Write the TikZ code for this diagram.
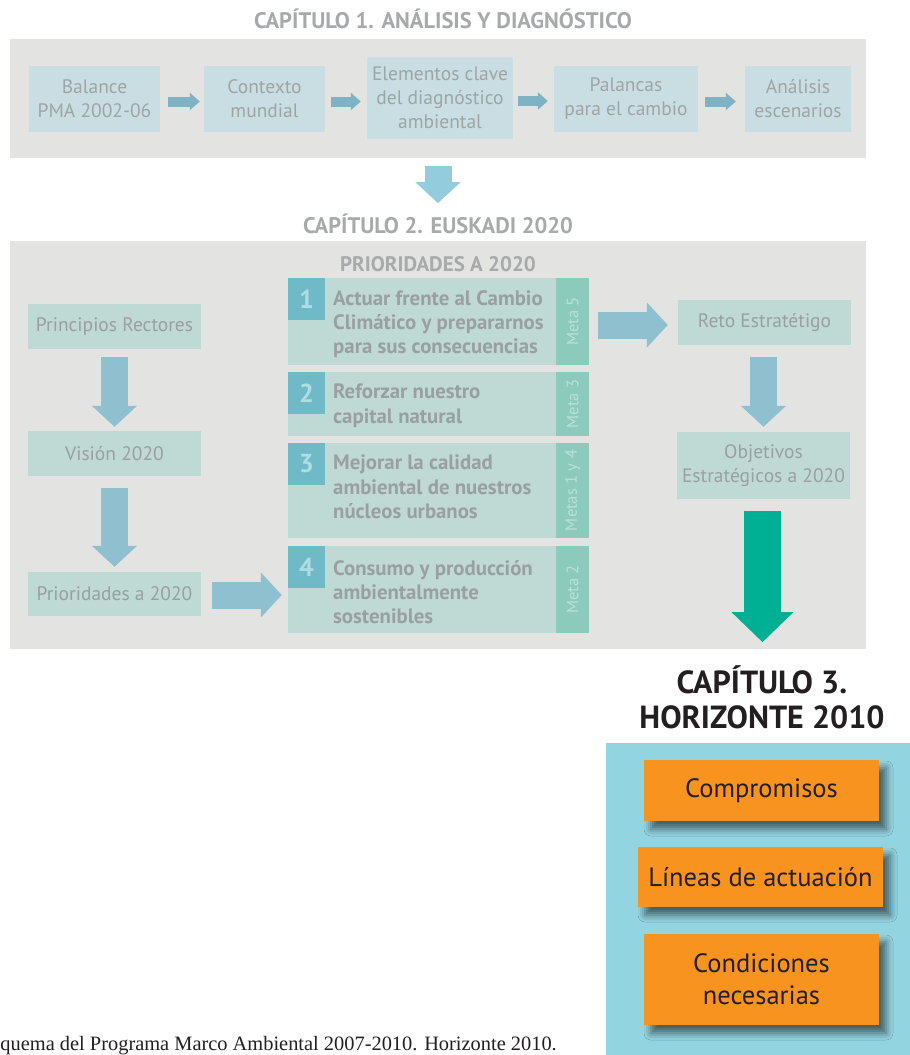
\documentclass[tikz,border=0pt]{standalone}
\usepackage{fontspec}
\setmainfont{PT Sans}
\newfontfamily\capfont{Liberation Serif}
\usetikzlibrary{arrows.meta,shadows.blur,calc}
\definecolor{panelc}{HTML}{E3E3E2}
\definecolor{box1c}{HTML}{C9DEE2}
\definecolor{box2c}{HTML}{BFD9D5}
\definecolor{txt1}{HTML}{9FA4A5}
\definecolor{txt2}{HTML}{99A0A0}
\definecolor{ttl}{HTML}{A7A9AB}
\definecolor{numc}{HTML}{70BAC8}
\definecolor{numtxt}{HTML}{B0DCE3}
\definecolor{metac}{HTML}{8CCBBB}
\definecolor{metatxt}{HTML}{B8E2D6}
\definecolor{arr1}{HTML}{7FB3C3}
\definecolor{arr2}{HTML}{8EC0CF}
\definecolor{arr3}{HTML}{93CDDD}
\definecolor{greenc}{HTML}{00B094}
\definecolor{cyanc}{HTML}{93D4E1}
\definecolor{orangec}{HTML}{F7931E}
\definecolor{darktxt}{HTML}{231F20}
\begin{document}
\begin{tikzpicture}[x=1pt,y=-1pt,
  panel/.style={rectangle, fill=panelc, draw=none, inner sep=0},
  ttlstyle/.style={text=ttl, inner sep=0, font=\bfseries\fontsize{22.5}{26}\selectfont},
  bxa/.style={rectangle, fill=box1c, text=txt1, align=center, inner sep=0, minimum height=66pt, font=\fontsize{19.5}{24}\selectfont},
  bxb/.style={rectangle, fill=box2c, text=txt2, align=center, inner sep=0, minimum width=173pt, font=\fontsize{19.5}{24}\selectfont},
  pbox/.style={rectangle, fill=box2c, inner sep=0, minimum width=301pt},
  numsq/.style={rectangle, fill=numc, text=numtxt, inner sep=0, minimum width=37pt, minimum height=42pt, anchor=north west, font=\bfseries\fontsize{26}{26}\selectfont},
  metabox/.style={rectangle, fill=metac, text=metatxt, rotate=90, inner sep=0, minimum height=33pt, font=\fontsize{16.5}{16.5}\selectfont},
  ptext/.style={anchor=north west, align=left, text=txt2, inner sep=0, font=\bfseries\fontsize{20.8}{24.3}\selectfont},
  obox/.style={rectangle, fill=orangec, text=darktxt, align=center, inner sep=0, font=\fontsize{26.5}{32}\selectfont,
     blur shadow={shadow xshift=7pt, shadow yshift=-8pt, shadow blur radius=7pt, shadow opacity=55}},
  fatsmall/.style={draw=arr1, line width=10pt, -{Triangle[width=17pt,length=10pt]}},
  fatmid/.style={draw=arr2, line width=27pt, -{Triangle[width=44pt,length=21pt]}},
  fatlight/.style={draw=arr3, line width=27pt, -{Triangle[width=44pt,length=21pt]}},
  fatgreen/.style={draw=greenc, line width=37pt, -{Triangle[width=60pt,length=30pt]}}
]
\useasboundingbox (0,0) rectangle (910,1055);

% ---------- Chapter 1 ----------
\node[ttlstyle] (t1) at (443,19) {CAPÍTULO 1. ANÁLISIS Y DIAGNÓSTICO};
\node[panel, minimum width=856pt, minimum height=119pt] (ch1) at (438,98.5) {};
\node[bxa, minimum width=131pt] (bal) at (94.5,98.5) {Balance\\PMA 2002-06};
\node[bxa, minimum width=121pt] (ctx) at (264.5,98.5) {Contexto\\mundial};
\node[bxa, minimum width=146pt, minimum height=82pt] (ele) at (440,98) {Elementos clave\\del diagnóstico\\ambiental};
\node[bxa, minimum width=144pt] (pal) at (626,98.5) {Palancas\\para el cambio};
\node[bxa, minimum width=106pt] (ana) at (798,98.5) {Análisis\\escenarios};
\draw[fatsmall] ($(bal.east)+(8,3)$) -- ($(bal.east -| ctx.west)+(-4,3)$);
\draw[fatsmall] ($(ctx.east)+(6,3)$) -- ($(ctx.east -| ele.west)+(-6,3)$);
\draw[fatsmall] ($(ele.east)+(5,3)$) -- ($(ele.east -| pal.west)+(-6,3)$);
\draw[fatsmall] ($(pal.east)+(7,3)$) -- ($(pal.east -| ana.west)+(-9,3)$);

\draw[fatlight] ($(ch1.south)+(0,8)$) -- ($(ch1.south)+(0,45)$);

% ---------- Chapter 2 ----------
\node[ttlstyle] (t2) at (438,224) {CAPÍTULO 2. EUSKADI 2020};
\node[panel, minimum width=856pt, minimum height=408pt] (ch2) at (438,445) {};
\node[text=ttl, inner sep=0, font=\bfseries\fontsize{21}{24}\selectfont] (prt) at (438,264) {PRIORIDADES A 2020};

\node[bxb, minimum height=45pt] (pr) at (114.5,326.5) {Principios Rectores};
\node[bxb, minimum height=45pt] (vi) at (114.5,453.5) {Visión 2020};
\node[bxb, minimum height=44pt] (pa) at (114.5,594) {Prioridades a 2020};
\draw[fatmid] ($(pr.south)+(0,8)$) -- ($(vi.north)+(0,-4)$);
\draw[fatmid] ($(vi.south)+(0,12)$) -- ($(pa.north)+(0,-5)$);

\node[pbox, minimum height=87pt] (p1) at (438.5,321.5) {};
\node[pbox, minimum height=64pt] (p2) at (438.5,404) {};
\node[pbox, minimum height=95pt] (p3) at (438.5,490.5) {};
\node[pbox, minimum height=87pt] (p4) at (438.5,589.5) {};

\node[numsq] (n1) at (p1.north west) {1};
\node[numsq] (n2) at (p2.north west) {2};
\node[numsq] (n3) at (p3.north west) {3};
\node[numsq] (n4) at (p4.north west) {4};

\node[metabox, minimum width=87pt] (m1) at ($(p1.east)+(-16.5,0)$) {Meta 5};
\node[metabox, minimum width=64pt] (m2) at ($(p2.east)+(-16.5,0)$) {Meta 3};
\node[metabox, minimum width=95pt] (m3) at ($(p3.east)+(-16.5,0)$) {Metas 1 y 4};
\node[metabox, minimum width=87pt] (m4) at ($(p4.east)+(-16.5,0)$) {Meta 2};

\node[ptext] (x1) at (333,290) {Actuar frente al Cambio\\Climático y prepararnos\\para sus consecuencias};
\node[ptext] (x2) at (333,384) {Reforzar nuestro\\capital natural};
\node[ptext] (x3) at (333,455) {Mejorar la calidad\\ambiental de nuestros\\núcleos urbanos};
\node[ptext] (x4) at (333,560) {Consumo y producción\\ambientalmente\\sostenibles};

\draw[fatmid] ($(pa.east)+(11,1)$) -- ($(pa.east -| p4.west)+(-6,1)$);

\node[bxb, minimum height=45pt] (reto) at (764.5,322.5) {Reto Estratétigo};
\node[bxb, minimum height=67pt] (obj) at (763.5,465.5) {Objetivos\\Estratégicos a 2020};
\draw[fatmid] ($(p1.east)+(9,3.5)$) -- ($(p1.east -| reto.west)+(-10,3.5)$);
\draw[fatmid] ($(reto.south)+(-1,12)$) -- ($(obj.north)+(0,-5)$);
\draw[fatgreen] ($(obj.south)+(-1,12)$) -- ($(obj.south)+(-1,143)$);

% ---------- Chapter 3 ----------
\node[text=darktxt, align=center, inner sep=0, font=\bfseries\fontsize{32}{35}\selectfont] (t3) at (762,697) {CAPÍTULO 3.\\HORIZONTE 2010};
\node[rectangle, fill=cyanc, inner sep=0, minimum width=304pt, minimum height=312pt] (ch3) at (758,899) {};
\node[obox, minimum width=235pt, minimum height=61pt] (comp) at (761.5,790.5) {Compromisos};
\node[obox, minimum width=245pt, minimum height=60pt] (lin) at (760.5,877) {Líneas de actuación};
\node[obox, minimum width=235pt, minimum height=91pt] (cond) at (761.5,979.5) {Condiciones\\necesarias};

% ---------- Caption ----------
\node[anchor=base east, inner sep=0, text=darktxt, font=\capfont\fontsize{20.4}{24}\selectfont] (cap) at (557,1050) {quema del Programa Marco Ambiental 2007-2010. Horizonte 2010.};
\end{tikzpicture}
\end{document}
